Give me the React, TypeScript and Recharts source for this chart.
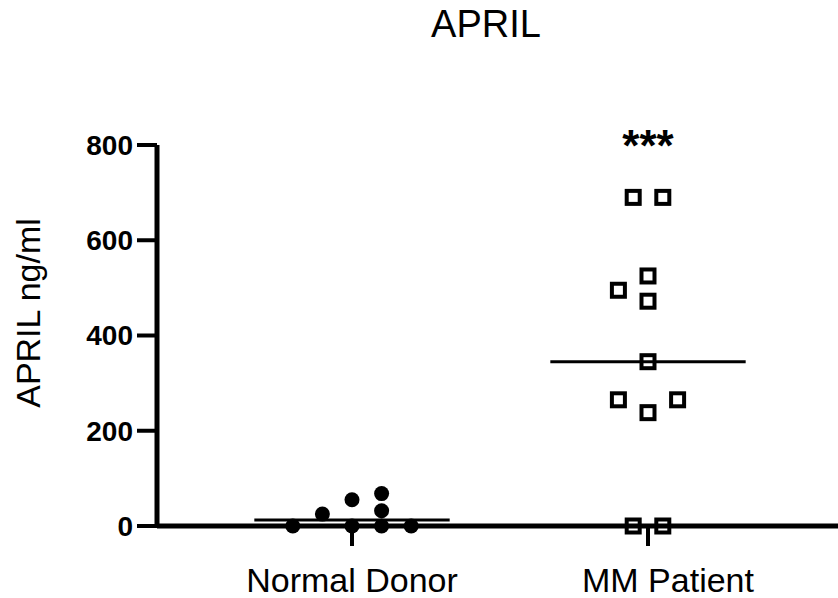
import React from 'react';
import { ScatterChart, Scatter, XAxis, YAxis, ReferenceLine, ReferenceDot } from 'recharts';

const FONT = '"Liberation Sans", Arial, Helvetica, sans-serif';

const chartTitle = 'APRIL';
const yAxisTitle = 'APRIL ng/ml';
const categories = ['Normal Donor', 'MM Patient'];
const categoryPositions = [1, 2];
const yTicks = [0, 200, 400, 600, 800];
const significance = '***';

// Normal Donor (filled circles): jittered x position and value
const normalDonorX = [0.8, 0.9, 1.0, 1.0, 1.1, 1.1, 1.1, 1.2];
const normalDonorY = [0, 25, 55, 0, 68, 32, 0, 0];

// MM Patient (open squares)
const mmPatientX = [1.95, 2.05, 1.9, 2.0, 2.0, 2.0, 1.9, 2.0, 2.1, 1.95, 2.05];
const mmPatientY = [690, 690, 495, 525, 472, 345, 265, 238, 265, 0, 0];

const normalData = normalDonorX.map((x, i) => ({ x, y: normalDonorY[i] }));
const mmData = mmPatientX.map((x, i) => ({ x, y: mmPatientY[i] }));

const median = (v: number[]) => {
  const s = [...v].sort((a, b) => a - b);
  const m = Math.floor(s.length / 2);
  return s.length % 2 ? s[m] : (s[m - 1] + s[m]) / 2;
};
const medians = [median(normalDonorY), median(mmPatientY)];

const CircleShape = (props: any) => (
  <circle cx={props.cx} cy={props.cy} r={7.5} fill="#000" />
);
const SquareShape = (props: any) => (
  <rect x={props.cx - 6.5} y={props.cy - 6.5} width={13} height={13} fill="none" stroke="#000" strokeWidth={4} />
);

const XTick = (props: any) => {
  const { x, y, payload } = props;
  const idx = categoryPositions.indexOf(payload.value);
  const shift = idx === 1 ? 20 : 0;
  return (
    <text x={x + shift} y={y} dy={44} textAnchor="middle" fontSize={34} fontFamily={FONT} fill="#000">
      {categories[idx]}
    </text>
  );
};

export default function App() {
  return (
    <div style={{ position: 'absolute', left: 0, top: 0, width: 838, height: 598, background: '#fff' }}>
      <div
        style={{
          position: 'absolute',
          left: 0,
          top: 5,
          width: 972,
          textAlign: 'center',
          fontFamily: FONT,
          fontSize: 38,
          lineHeight: 1,
          color: '#000',
          whiteSpace: 'nowrap',
        }}
      >
        {chartTitle}
      </div>
      <ScatterChart width={838} height={598} margin={{ top: 145, right: 0, bottom: 0, left: 0 }}>
        <XAxis
          type="number"
          dataKey="x"
          height={72}
          domain={[0.3412, 2.6419]}
          ticks={categoryPositions}
          allowDataOverflow
          axisLine={{ stroke: '#000', strokeWidth: 5 }}
          tickLine={{ stroke: '#000', strokeWidth: 4 }}
          tickSize={20}
          tick={<XTick />}
          interval={0}
        />
        <YAxis
          type="number"
          dataKey="y"
          width={157}
          domain={[0, 800]}
          ticks={yTicks}
          axisLine={{ stroke: '#000', strokeWidth: 5 }}
          tickLine={{ stroke: '#000', strokeWidth: 4 }}
          tickSize={20}
          tickMargin={4}
          tick={{ fontSize: 28, fontWeight: 'bold', fill: '#000', fontFamily: FONT }}
          label={{
            content: () => (
              <text transform="translate(40,313) rotate(-90)" textAnchor="middle" fontSize={34} fontFamily={FONT} fill="#000">
                {yAxisTitle}
              </text>
            ),
          }}
        />
        {categoryPositions.map((c, i) => (
          <ReferenceLine
            key={c}
            segment={[
              { x: c - 0.33, y: medians[i] },
              { x: c + 0.33, y: medians[i] },
            ]}
            stroke="#000"
            strokeWidth={3}
          />
        ))}
        <Scatter data={normalData} shape={<CircleShape />} isAnimationActive={false} />
        <Scatter data={mmData} shape={<SquareShape />} isAnimationActive={false} />
        <ReferenceDot
          x={categoryPositions[1]}
          y={yTicks[yTicks.length - 1]}
          r={0}
          fill="none"
          stroke="none"
          label={{
            content: (p: any) => (
              <text
                x={p.viewBox.x + (p.viewBox.width || 0) / 2}
                y={p.viewBox.y + 16}
                textAnchor="middle"
                fontSize={44}
                fontWeight="bold"
                fontFamily={FONT}
                fill="#000"
              >
                {significance}
              </text>
            ),
          }}
        />
      </ScatterChart>
    </div>
  );
}
